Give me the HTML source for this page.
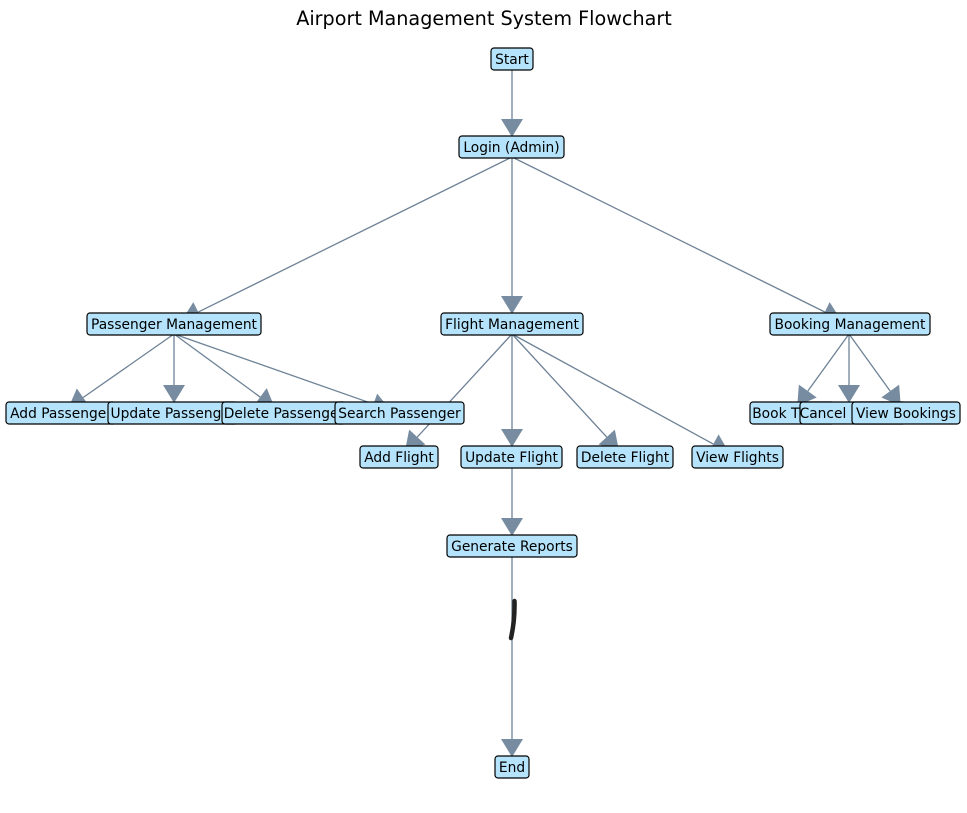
<!DOCTYPE html>
<html><head><meta charset="utf-8"><style>
html,body{margin:0;padding:0;background:#fff;}
svg{display:block;}
text{font-family:"DejaVu Sans","Liberation Sans",sans-serif;font-size:13.8px;fill:#000;}
</style></head><body>
<svg id="s" width="967" height="813" viewBox="0 0 967 813" xmlns="http://www.w3.org/2000/svg">
<text x="484" y="25" text-anchor="middle" style="font-size:19.2px">Airport Management System Flowchart</text>
<g id="edges"></g>
<path d="M514.5 601 Q515 620 511 638" stroke="#222" stroke-width="4.5" fill="none" stroke-linecap="round"/>
<g id="nodes" stroke="#000" stroke-width="1.2" fill="#b4e3fb">
<rect x="491" y="48" width="42" height="22" rx="3"/><text x="512" y="64" text-anchor="middle" stroke="none">Start</text>
<rect x="459" y="136" width="105" height="22" rx="3"/><text x="511.5" y="152" text-anchor="middle" stroke="none">Login (Admin)</text>
<rect x="87" y="313" width="174" height="22" rx="3"/><text x="174" y="329" text-anchor="middle" stroke="none">Passenger Management</text>
<rect x="441" y="313" width="142" height="22" rx="3"/><text x="512" y="329" text-anchor="middle" stroke="none">Flight Management</text>
<rect x="770" y="313" width="160" height="22" rx="3"/><text x="850" y="329" text-anchor="middle" stroke="none">Booking Management</text>
<rect x="6" y="402" width="110" height="22" rx="3"/><text x="61" y="418" text-anchor="middle" stroke="none">Add Passenger</text>
<rect x="108" y="402" width="130" height="22" rx="3"/><text x="173" y="418" text-anchor="middle" stroke="none">Update Passenger</text>
<rect x="222" y="402" width="124" height="22" rx="3"/><text x="284" y="418" text-anchor="middle" stroke="none">Delete Passenger</text>
<rect x="335" y="402" width="129" height="22" rx="3"/><text x="399.5" y="418" text-anchor="middle" stroke="none">Search Passenger</text>
<rect x="360" y="446" width="78" height="22" rx="3"/><text x="399" y="462" text-anchor="middle" stroke="none">Add Flight</text>
<rect x="461" y="446" width="101" height="22" rx="3"/><text x="511.5" y="462" text-anchor="middle" stroke="none">Update Flight</text>
<rect x="577" y="446" width="96" height="22" rx="3"/><text x="625" y="462" text-anchor="middle" stroke="none">Delete Flight</text>
<rect x="692" y="446" width="91" height="22" rx="3"/><text x="737.5" y="462" text-anchor="middle" stroke="none">View Flights</text>
<rect x="750" y="402" width="85" height="22" rx="3"/><text x="792" y="418" text-anchor="middle" stroke="none">Book Ticket</text>
<rect x="800" y="402" width="106" height="22" rx="3"/><text x="853" y="418" text-anchor="middle" stroke="none">Cancel Booking</text>
<rect x="852" y="402" width="108" height="22" rx="3"/><text x="906" y="418" text-anchor="middle" stroke="none">View Bookings</text>
<rect x="447" y="535" width="130" height="22" rx="3"/><text x="512" y="551" text-anchor="middle" stroke="none">Generate Reports</text>
<rect x="495" y="756" width="34" height="22" rx="3"/><text x="512" y="772" text-anchor="middle" stroke="none">End</text>
</g>
</svg>
<script>
var E=[[512,59,512,147],[512,147,174,324],[512,147,512,324],[512,147,849,324],
[174,324,61,413],[174,324,174,413],[174,324,282,413],[174,324,399,413],
[512,324,399,457],[512,324,512,457],[512,324,625,457],[512,324,737,457],
[849,324,792,413],[849,324,849,413],[849,324,906,413],
[512,457,512,546],[512,546,512,767]];
var g=document.getElementById('edges'),h='';
E.forEach(function(e){
var sx=e[0],sy=e[1]+10;
var dx=e[2]-sx,dy=e[3]-sy,L=Math.hypot(dx,dy),ux=dx/L,uy=dy/L;
var tx=e[2]-ux*9,ty=e[3]-uy*9;
if(Math.abs(dx)<1){ty=e[3]-10;}
var bx=tx-ux*18,by=ty-uy*18,px=-uy*11,py=ux*11;
h+='<line x1="'+sx+'" y1="'+sy+'" x2="'+bx+'" y2="'+by+'" stroke="#6e8296" stroke-width="1.3"/>';
h+='<polygon points="'+tx+','+ty+' '+(bx+px)+','+(by+py)+' '+(bx-px)+','+(by-py)+'" fill="#778ca0"/>';
});
g.innerHTML=h;
</script>
</body></html>
